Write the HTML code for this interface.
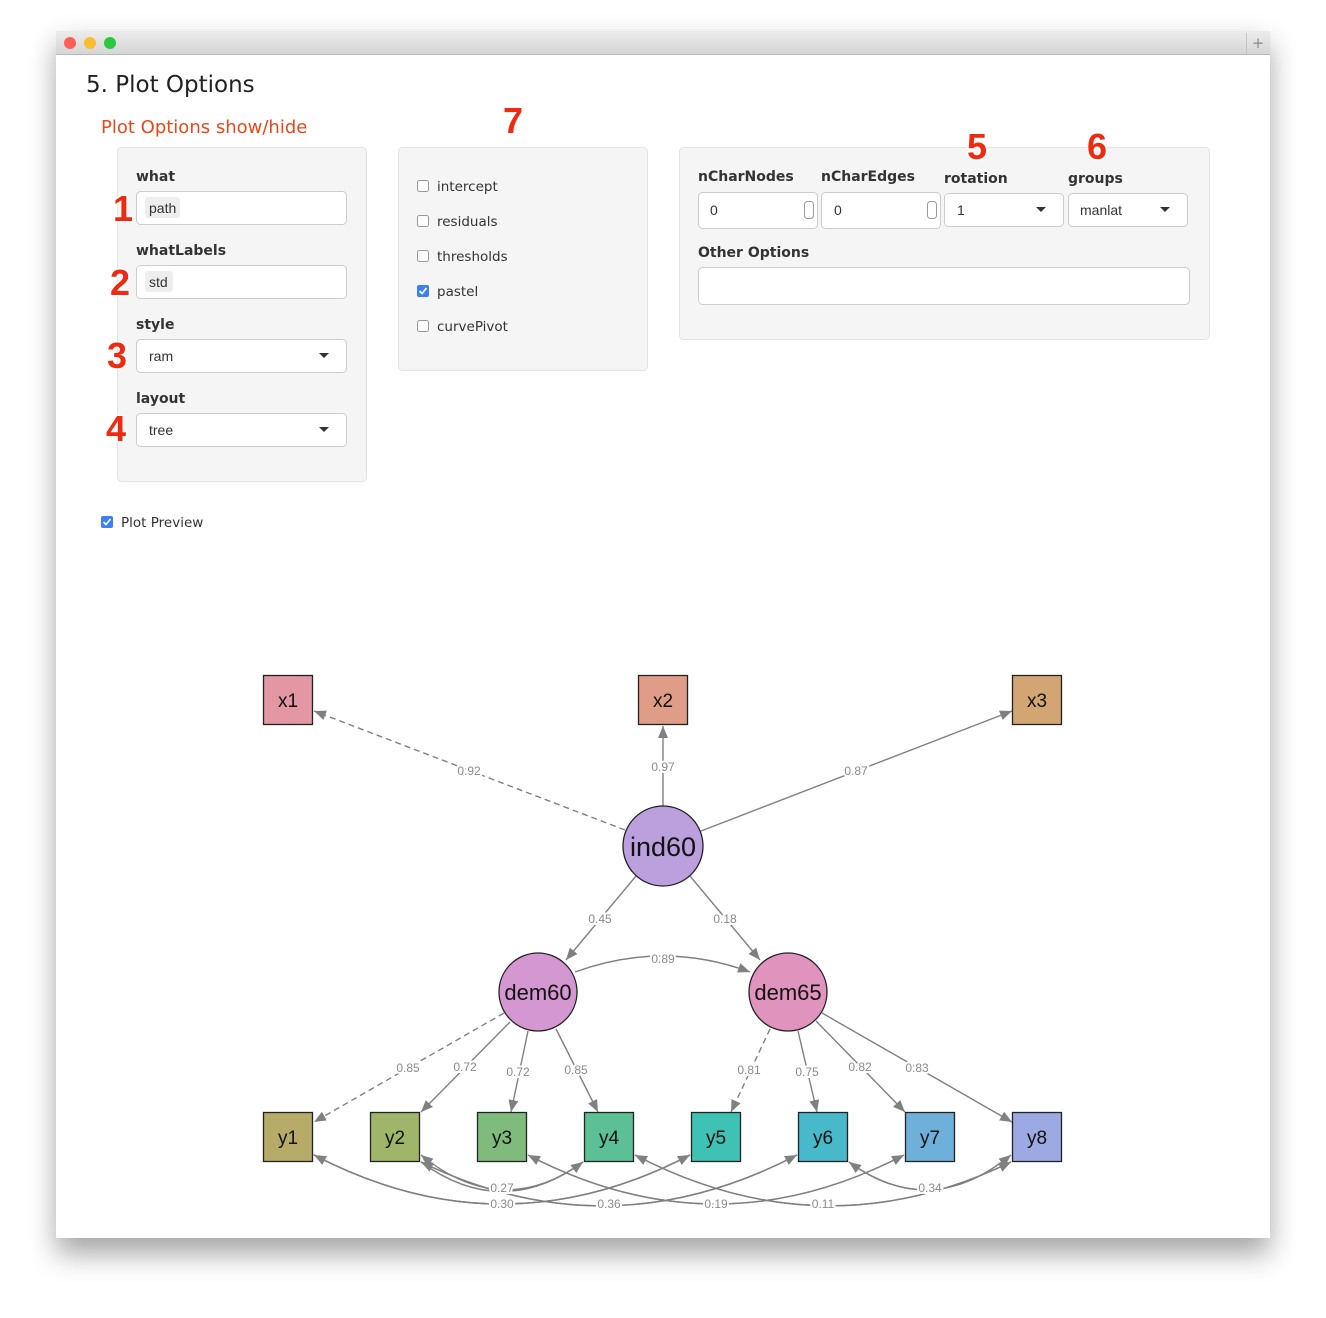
<!DOCTYPE html>
<html><head><meta charset="utf-8">
<style>
html,body{margin:0;padding:0;background:#fff;width:1326px;height:1318px;overflow:hidden;}
svg{display:block}
text{font-family:"DejaVu Sans","Liberation Sans",sans-serif;}
.lbl{font-size:14px;font-weight:bold;fill:#333}
.ip{font-family:"Liberation Sans",sans-serif;font-size:14px;fill:#333}
.cb{font-size:13.5px;fill:#333}
.num{font-family:"Liberation Sans",sans-serif;font-weight:bold;font-size:36px;fill:#f02a10;stroke:#fff;stroke-width:3;paint-order:stroke;}
.el{font-family:"Liberation Sans",sans-serif;font-size:12px;fill:#8a8a8a;stroke:#fff;stroke-width:4;paint-order:stroke;text-anchor:middle}
.nd{font-family:"Liberation Sans",sans-serif;font-size:19px;fill:#111;text-anchor:middle}
.nc{font-family:"Liberation Sans",sans-serif;font-size:27px;fill:#111;text-anchor:middle}
.e{stroke:#808080;stroke-width:1.4;fill:none}
.d{stroke-dasharray:6 4}
</style></head><body>
<svg width="1326" height="1318" viewBox="0 0 1326 1318" xmlns="http://www.w3.org/2000/svg">
<defs>
<filter id="sh" x="-10%" y="-10%" width="120%" height="125%"><feGaussianBlur stdDeviation="14"/></filter>
<marker id="a" viewBox="0 0 12 10" refX="12" refY="5" markerWidth="12" markerHeight="10" markerUnits="userSpaceOnUse" orient="auto"><path d="M0,0 L12,5 L0,10 z" fill="#808080"/></marker>
<linearGradient id="tb" x1="0" y1="0" x2="0" y2="1"><stop offset="0" stop-color="#ececec"/><stop offset="1" stop-color="#d6d6d6"/></linearGradient>
</defs>
<!-- window shadow -->
<rect x="56" y="44" width="1214" height="1210" fill="#000" opacity="0.35" filter="url(#sh)"/>
<rect x="56" y="31" width="1214" height="1207" fill="#fff"/>
<rect x="56" y="31" width="1214" height="23" fill="url(#tb)"/>
<line x1="56" y1="54.5" x2="1270" y2="54.5" stroke="#b8b8b8"/>
<circle cx="70" cy="43" r="6" fill="#fc5f57"/><circle cx="90" cy="43" r="6" fill="#fdbc2e"/><circle cx="110" cy="43" r="6" fill="#28c840"/>
<line x1="1246.5" y1="33" x2="1246.5" y2="54" stroke="#c4c4c4"/>
<text x="1258" y="48" font-size="15" fill="#888" text-anchor="middle">+</text>

<text x="86" y="92" font-size="23" fill="#222">5. Plot Options</text>
<text x="101" y="133" font-size="18" fill="#e8471b">Plot Options show/hide</text>

<!-- left panel -->
<rect x="117.5" y="147.5" width="249" height="334" rx="4" fill="#f5f5f5" stroke="#e3e3e3"/>
<text class="lbl" x="136" y="181">what</text>
<rect x="136.5" y="191.5" width="210" height="33" rx="4" fill="#fff" stroke="#ccc"/>
<rect x="145" y="197" width="35" height="21" rx="3" fill="#eee"/>
<text class="ip" x="149" y="213">path</text>
<text class="lbl" x="136" y="255">whatLabels</text>
<rect x="136.5" y="265.5" width="210" height="33" rx="4" fill="#fff" stroke="#ccc"/>
<rect x="145" y="271" width="28" height="21" rx="3" fill="#eee"/>
<text class="ip" x="149" y="287">std</text>
<text class="lbl" x="136" y="329">style</text>
<rect x="136.5" y="339.5" width="210" height="33" rx="4" fill="#fff" stroke="#ccc"/>
<text class="ip" x="149" y="361">ram</text>
<path d="M319,353 L329,353 L324,358 z" fill="#333"/>
<text class="lbl" x="136" y="403">layout</text>
<rect x="136.5" y="413.5" width="210" height="33" rx="4" fill="#fff" stroke="#ccc"/>
<text class="ip" x="149" y="435">tree</text>
<path d="M319,427 L329,427 L324,432 z" fill="#333"/>
<text class="num" x="113" y="221">1</text>
<text class="num" x="110" y="295">2</text>
<text class="num" x="107" y="368">3</text>
<text class="num" x="106" y="441">4</text>

<!-- middle panel -->
<rect x="398.5" y="147.5" width="249" height="223" rx="4" fill="#f5f5f5" stroke="#e3e3e3"/>
<text class="num" x="503" y="133">7</text>
<g>
<rect x="417.5" y="180.5" width="11" height="11" rx="2" fill="#fff" stroke="#999"/><text class="cb" x="437" y="191">intercept</text>
<rect x="417.5" y="215.5" width="11" height="11" rx="2" fill="#fff" stroke="#999"/><text class="cb" x="437" y="226">residuals</text>
<rect x="417.5" y="250.5" width="11" height="11" rx="2" fill="#fff" stroke="#999"/><text class="cb" x="437" y="261">thresholds</text>
<rect x="417" y="285" width="12" height="12" rx="2" fill="#3b82f0"/><path d="M419.5,291 L422,293.5 L426.5,288" stroke="#fff" stroke-width="1.6" fill="none"/><text class="cb" x="437" y="296">pastel</text>
<rect x="417.5" y="320.5" width="11" height="11" rx="2" fill="#fff" stroke="#999"/><text class="cb" x="437" y="331">curvePivot</text>
</g>

<!-- right panel -->
<rect x="679.5" y="147.5" width="530" height="192" rx="4" fill="#f5f5f5" stroke="#e3e3e3"/>
<text class="num" x="967" y="159">5</text>
<text class="num" x="1087" y="159">6</text>
<text class="lbl" x="698" y="181">nCharNodes</text>
<text class="lbl" x="821" y="181">nCharEdges</text>
<text class="lbl" x="944" y="183">rotation</text>
<text class="lbl" x="1068" y="183">groups</text>
<rect x="698.5" y="192.5" width="119" height="36" rx="4" fill="#fff" stroke="#ccc"/>
<text class="ip" x="710" y="215">0</text>
<rect x="804.5" y="201.5" width="9" height="17" rx="3" fill="#fff" stroke="#999"/>
<rect x="821.5" y="192.5" width="119" height="36" rx="4" fill="#fff" stroke="#ccc"/>
<text class="ip" x="834" y="215">0</text>
<rect x="927.5" y="201.5" width="9" height="17" rx="3" fill="#fff" stroke="#999"/>
<rect x="944.5" y="193.5" width="119" height="33" rx="4" fill="#fff" stroke="#ccc"/>
<text class="ip" x="957" y="215">1</text>
<path d="M1036,207 L1046,207 L1041,212 z" fill="#333"/>
<rect x="1068.5" y="193.5" width="119" height="33" rx="4" fill="#fff" stroke="#ccc"/>
<text class="ip" x="1080" y="215">manlat</text>
<path d="M1160,207 L1170,207 L1165,212 z" fill="#333"/>
<text class="lbl" x="698" y="257">Other Options</text>
<rect x="698.5" y="267.5" width="491" height="37" rx="4" fill="#fff" stroke="#ccc"/>

<!-- plot preview -->
<rect x="101" y="516" width="12" height="12" rx="2" fill="#3b82f0"/><path d="M103.5,522 L106,524.5 L110.5,519" stroke="#fff" stroke-width="1.6" fill="none"/>
<text class="cb" x="121" y="527">Plot Preview</text>

<!-- edges -->
<g>
<line class="e d" x1="625" y1="830" x2="314" y2="711" marker-end="url(#a)"/>
<line class="e" x1="663" y1="806" x2="663" y2="726" marker-end="url(#a)"/>
<line class="e" x1="701" y1="831" x2="1012" y2="711" marker-end="url(#a)"/>
<line class="e" x1="636" y1="876" x2="566" y2="960" marker-end="url(#a)"/>
<line class="e" x1="690" y1="876" x2="760" y2="960" marker-end="url(#a)"/>
<path class="e" d="M575,972 Q663,940 750,972" marker-end="url(#a)"/>
<line class="e d" x1="504" y1="1013" x2="314" y2="1122" marker-end="url(#a)"/>
<line class="e" x1="510" y1="1022" x2="421" y2="1112" marker-end="url(#a)"/>
<line class="e" x1="528" y1="1031" x2="511" y2="1112" marker-end="url(#a)"/>
<line class="e" x1="556" y1="1029" x2="598" y2="1112" marker-end="url(#a)"/>
<line class="e d" x1="770" y1="1029" x2="731" y2="1112" marker-end="url(#a)"/>
<line class="e" x1="798" y1="1031" x2="817" y2="1112" marker-end="url(#a)"/>
<line class="e" x1="816" y1="1021" x2="905" y2="1112" marker-end="url(#a)"/>
<line class="e" x1="822" y1="1013" x2="1012" y2="1122" marker-end="url(#a)"/>
<!-- residual covariances -->
<path class="e" d="M690,1155 Q502,1253 314,1155" marker-start="url(#a)" marker-end="url(#a)" style="marker-start:none"/>
<path class="e" d="M314,1155 Q502,1253 690,1155" marker-end="url(#a)"/>
<path class="e" d="M314,1155 Q502,1253 690,1155" marker-start="url(#a)" transform="rotate(0)"/>
<path class="e" d="M583,1162 Q502,1221 421,1155" marker-end="url(#a)"/>
<path class="e" d="M421,1162 Q502,1221 583,1162" marker-end="url(#a)"/>
<path class="e" d="M797,1155 Q609,1253 421,1162" marker-end="url(#a)"/>
<path class="e" d="M421,1162 Q609,1253 797,1155" marker-end="url(#a)"/>
<path class="e" d="M904,1155 Q716,1253 528,1155" marker-end="url(#a)"/>
<path class="e" d="M528,1155 Q716,1253 904,1155" marker-end="url(#a)"/>
<path class="e" d="M1011,1162 Q823,1253 635,1155" marker-end="url(#a)"/>
<path class="e" d="M635,1155 Q823,1253 1011,1162" marker-end="url(#a)"/>
<path class="e" d="M1011,1155 Q930,1221 849,1162" marker-end="url(#a)"/>
<path class="e" d="M849,1162 Q930,1221 1011,1155" marker-end="url(#a)"/>
</g>
<!-- edge labels -->
<text class="el" x="469" y="775">0.92</text>
<text class="el" x="663" y="771">0.97</text>
<text class="el" x="856" y="775">0.87</text>
<text class="el" x="600" y="923">0.45</text>
<text class="el" x="725" y="923">0.18</text>
<text class="el" x="663" y="963">0.89</text>
<text class="el" x="408" y="1072">0.85</text>
<text class="el" x="465" y="1071">0.72</text>
<text class="el" x="518" y="1076">0.72</text>
<text class="el" x="576" y="1074">0.85</text>
<text class="el" x="749" y="1074">0.81</text>
<text class="el" x="807" y="1076">0.75</text>
<text class="el" x="860" y="1071">0.82</text>
<text class="el" x="917" y="1072">0.83</text>
<text class="el" x="502" y="1192">0.27</text>
<text class="el" x="930" y="1192">0.34</text>
<text class="el" x="502" y="1208">0.30</text>
<text class="el" x="609" y="1208">0.36</text>
<text class="el" x="716" y="1208">0.19</text>
<text class="el" x="823" y="1208">0.11</text>

<!-- nodes -->
<g stroke="#222" stroke-width="1.3">
<rect x="263.5" y="675.5" width="49" height="49" fill="#e396a4"/>
<rect x="638.5" y="675.5" width="49" height="49" fill="#df9d88"/>
<rect x="1012.5" y="675.5" width="49" height="49" fill="#d3a572"/>
<circle cx="663" cy="846" r="40" fill="#bca0dd"/>
<circle cx="538" cy="992" r="39" fill="#d597d1"/>
<circle cx="788" cy="992" r="39" fill="#e094bd"/>
<rect x="263.5" y="1112.5" width="49" height="49" fill="#b6ab68"/>
<rect x="370.5" y="1112.5" width="49" height="49" fill="#9fb66a"/>
<rect x="477.5" y="1112.5" width="49" height="49" fill="#7fbb7d"/>
<rect x="584.5" y="1112.5" width="49" height="49" fill="#5cc097"/>
<rect x="691.5" y="1112.5" width="49" height="49" fill="#3fc1b3"/>
<rect x="798.5" y="1112.5" width="49" height="49" fill="#48b9cb"/>
<rect x="905.5" y="1112.5" width="49" height="49" fill="#6fb0da"/>
<rect x="1012.5" y="1112.5" width="49" height="49" fill="#9ca9e2"/>
</g>
<text class="nd" x="288" y="707">x1</text>
<text class="nd" x="663" y="707">x2</text>
<text class="nd" x="1037" y="707">x3</text>
<text class="nc" x="663" y="856">ind60</text>
<text class="nd" x="538" y="1000" style="font-size:22px">dem60</text>
<text class="nd" x="788" y="1000" style="font-size:22px">dem65</text>
<text class="nd" x="288" y="1144">y1</text>
<text class="nd" x="395" y="1144">y2</text>
<text class="nd" x="502" y="1144">y3</text>
<text class="nd" x="609" y="1144">y4</text>
<text class="nd" x="716" y="1144">y5</text>
<text class="nd" x="823" y="1144">y6</text>
<text class="nd" x="930" y="1144">y7</text>
<text class="nd" x="1037" y="1144">y8</text>
</svg>
</body></html>
